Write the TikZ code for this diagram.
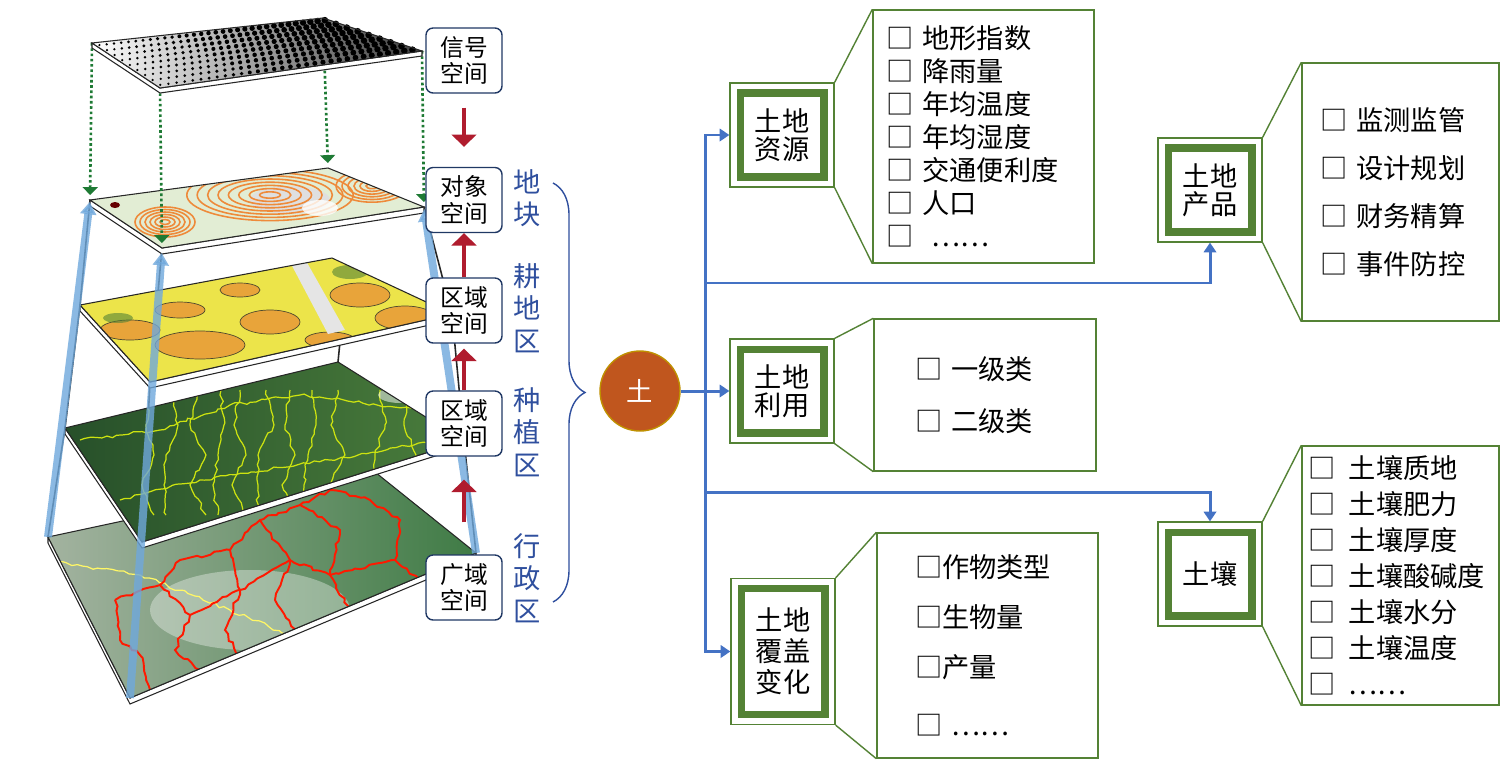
\documentclass[tikz,border=0pt]{standalone}
\usepackage{fontspec}
\setmainfont{Noto Sans CJK SC}
\usetikzlibrary{arrows.meta,calc,fit,decorations.pathreplacing,decorations.pathmorphing}
\definecolor{grn}{HTML}{548235}
\definecolor{bl}{HTML}{4472C4}
\definecolor{navy}{HTML}{203864}
\definecolor{lblue}{HTML}{2F4F9E}
\definecolor{rd}{HTML}{B01C2E}
\definecolor{dgr}{HTML}{1E7A34}
\definecolor{lgb}{HTML}{6FA8DC}
\definecolor{tuf}{HTML}{C0561E}
\definecolor{tub}{HTML}{BF9000}
\definecolor{adm1}{HTML}{A3B3A0}
\definecolor{adm2}{HTML}{3F7B45}
\definecolor{pla1}{HTML}{27502A}
\definecolor{pla2}{HTML}{4A7D3C}
\definecolor{cul}{HTML}{ECE44A}
\definecolor{obj}{HTML}{E2EDD4}
\definecolor{ora}{HTML}{EE8A3A}
\definecolor{blob}{HTML}{E8A43A}

\begin{document}
\begin{tikzpicture}[x=0.02cm,y=-0.02cm,
		grbox/.style={draw=grn,line width=4pt,fill=white,minimum width=1.68cm,minimum height=1.68cm,align=center,inner sep=0pt,font=\fontsize{15.5pt}{16pt}\selectfont},
		grout/.style={draw=grn,line width=0.7pt,inner sep=0.13cm},
		xibox/.style={draw=grn,line width=0.8pt,fill=white,align=left,inner ysep=0pt},
		spbox/.style={draw=navy,rounded corners=4pt,fill=white,line width=0.8pt,minimum width=1.52cm,minimum height=1.3cm,align=center,inner sep=0pt,font=\fontsize{13.5pt}{15pt}\selectfont},
		lbl/.style={text=lblue,align=center,font=\fontsize{15.5pt}{18.5pt}\selectfont},
		barr/.style={draw=bl,line width=1.7pt,-{Triangle[width=7pt,length=5.5pt]}},
		rarr/.style={draw=rd,line width=2.8pt,-{Triangle[width=14pt,length=7pt]}},
		garr/.style={draw=dgr,line width=1.5pt,dash pattern=on 1.5pt off 1.5pt,-{Triangle[width=8.5pt,length=4.5pt]}},
		leg/.style={draw=lgb,line width=4.5pt,opacity=0.8,-{Triangle[width=9pt,length=7pt]}},
		frame/.style={draw=gray!30!black,line width=0.9pt},
		rim/.style={fill=white,draw=gray!30!black,line width=0.6pt},
		rough/.style={decorate,decoration={random steps,segment length=3pt,amplitude=1pt}},
		redln/.style={draw=red!80!orange,line width=1.1pt,rough},
		ylln/.style={draw=yellow!80!green,line width=0.7pt,rough},
		orln/.style={draw=ora,line width=0.9pt}]
	\fill[white] (0,0) rectangle (1500,761);
	\useasboundingbox (0,0) rectangle (1500,761);
	\pgfmathsetseed{7}
	
	\coordinate (p1l) at (92,43);
	\coordinate (p1f) at (323,18);
	\coordinate (p1r) at (422,51);
	\coordinate (p1n) at (160,88);
	\coordinate (p2l) at (90,200);
	\coordinate (p2f) at (328,168);
	\coordinate (p2r) at (424,207);
	\coordinate (p2n) at (162,248);
	\coordinate (p3l) at (80,305);
	\coordinate (p3f) at (332,258);
	\coordinate (p3r) at (452,314);
	\coordinate (p3n) at (150,382);
	\coordinate (p4l) at (65,428);
	\coordinate (p4f) at (338,362);
	\coordinate (p4r) at (464,441);
	\coordinate (p4n) at (142,542);
	\coordinate (p5l) at (48,537);
	\coordinate (p5f) at (370,468);
	\coordinate (p5r) at (476,553);
	\coordinate (p5n) at (130,698);
	
	\draw[frame] (p2l) -- (p3l) -- (p4l) -- (p5l);
	\draw[frame] (p2r) -- (p3r) -- (p4r) -- (p5r);
	\draw[frame] (p2n) -- (p3n) -- (p4n) -- (p5n);
	\draw[frame] ($(p3n)!0.63!(p3r)$) -- (p4f);
	
	\path[rim] (p5l) -- (p5n) -- (p5r) -- ++(0,6) -- ($(p5n)+(0,6)$) -- ($(p5l)+(0,6)$) -- cycle;
	\shade[left color=adm1,right color=adm2] (p5l) -- (p5f) -- (p5r) -- (p5n) -- cycle;
	\begin{scope}
		\clip (p5l) -- (p5f) -- (p5r) -- (p5n) -- cycle;
		\fill[white,opacity=0.35] (250,610) ellipse (100 and 40);
		\draw[draw=yellow!60!white,line width=0.7pt,rough] (40,560) -- (140,575) -- (230,610) -- (300,640) -- (420,600);
		\draw[redln] (115,600) -- (160,585) -- (180,560) -- (230,550) -- (260,520) -- (300,505) -- (330,490) -- (350,470);
		\draw[redln] (115,600) -- (120,640) -- (140,655) -- (150,690);
		\draw[redln] (160,585) -- (190,615) -- (175,650) -- (200,670);
		\draw[redln] (230,550) -- (240,590) -- (225,630) -- (240,660);
		\draw[redln] (260,520) -- (290,560) -- (275,600) -- (300,640);
		\draw[redln] (300,505) -- (340,530) -- (330,575) -- (350,610);
		\draw[redln] (330,490) -- (370,500) -- (400,520) -- (395,560) -- (420,580);
		\draw[redln] (190,615) -- (240,590) -- (290,560) -- (330,575) -- (395,560);
	\end{scope}
	\draw[frame,line width=0.6pt] (p5l) -- (p5f) -- (p5r) -- (p5n) -- cycle;
	
	\path[rim] (p4l) -- (p4n) -- (p4r) -- ++(0,6) -- ($(p4n)+(0,6)$) -- ($(p4l)+(0,6)$) -- cycle;
	\shade[left color=pla1,right color=pla2] (p4l) -- (p4f) -- (p4r) -- (p4n) -- cycle;
	\begin{scope}
		\clip (p4l) -- (p4f) -- (p4r) -- (p4n) -- cycle;
		\foreach \x/\d in {150/4,172/-6,198/8,221/-3,240/6,266/-8,290/5,312/-4,338/7,380/-5,410/6}
			\draw[ylln] (\x,390) -- (\x-\d,425) -- (\x+\d,455) -- (\x-8,485) -- (\x+\d,515);
		\draw[ylln] (80,440) -- (160,430) -- (230,405) -- (300,395) -- (420,410);
		\draw[ylln] (120,500) -- (200,480) -- (330,460) -- (440,440);
		\fill[white,opacity=0.5] (400,395) ellipse (22 and 8);
	\end{scope}
	\draw[frame,line width=0.6pt] (p4l) -- (p4f) -- (p4r) -- (p4n) -- cycle;
	
	\path[rim] (p3l) -- (p3n) -- (p3r) -- ++(0,6) -- ($(p3n)+(0,6)$) -- ($(p3l)+(0,6)$) -- cycle;
	\fill[cul] (p3l) -- (p3f) -- (p3r) -- (p3n) -- cycle;
	\begin{scope}
		\clip (p3l) -- (p3f) -- (p3r) -- (p3n) -- cycle;
		\foreach \cx/\cy/\ra/\rb in {130/330/30/10,200/345/45/14,180/310/25/8,270/322/30/12,360/295/30/12,405/318/30/12,330/340/25/8,240/290/20/7}
			\filldraw[fill=blob,draw=black!60!olive,line width=0.4pt] (\cx,\cy) ellipse [x radius=\ra,y radius=\rb];
		\fill[gray!20] (290,262) -- (305,259) -- (345,330) -- (328,334) -- cycle;
		\fill[grn,opacity=0.6] (350,272) ellipse (18 and 7);
		\fill[grn,opacity=0.6] (118,318) ellipse (15 and 5);
	\end{scope}
	\draw[frame,line width=0.6pt] (p3l) -- (p3f) -- (p3r) -- (p3n) -- cycle;
	
	\path[rim] (p2l) -- (p2n) -- (p2r) -- ++(0,6) -- ($(p2n)+(0,6)$) -- ($(p2l)+(0,6)$) -- cycle;
	\fill[obj] (p2l) -- (p2f) -- (p2r) -- (p2n) -- cycle;
	\begin{scope}
		\clip (p2l) -- (p2f) -- (p2r) -- (p2n) -- cycle;
		\fill[gray!25] (290,200) ellipse (40 and 14);
		\foreach \rr in {8,16,...,64}
			\draw[orln] (270,195) ellipse [x radius={\rr*1.3},y radius={\rr*0.4}];
		\foreach \rr in {6,12,...,36}
			\draw[orln] (372,186) ellipse [x radius=\rr,y radius={\rr*0.45}];
		\foreach \rr in {5,10,...,30}
			\draw[orln] (165,222) ellipse [x radius=\rr,y radius={\rr*0.5}];
		\fill[white,opacity=0.8] (320,208) ellipse (18 and 8);
		\fill[black!60!red] (115,205) ellipse (5 and 3);
	\end{scope}
	\draw[frame,line width=0.6pt] (p2l) -- (p2f) -- (p2r) -- (p2n) -- cycle;
	
	\path[garr,shorten >=0.1cm] (p1l) -- (p2l);
	\path[garr,shorten >=0.1cm] (p1n) -- (p2n);
	\path[garr,shorten >=0.1cm] (p1f) -- (p2f);
	\path[garr,shorten >=0.1cm] (p1r) -- (p2r);
	
	\path[rim] (p1l) -- (p1n) -- (p1r) -- ++(0,5) -- ($(p1n)+(0,5)$) -- ($(p1l)+(0,5)$) -- cycle;
	\shade[left color=white,right color=gray!50!black] (p1l) -- (p1f) -- (p1r) -- (p1n) -- cycle;
	\foreach \i in {0,...,31} {
		\pgfmathsetmacro\u{(\i+0.5)/32}
		\foreach \j in {0,...,8} {
			\pgfmathsetmacro\v{(\j+0.5)/9}
			\coordinate (ta) at ($(p1l)!\u!(p1f)$);
			\coordinate (tb) at ($(p1n)!\u!(p1r)$);
			\fill ($(ta)!\v!(tb)$) circle [radius={1.2+2.2*\u}];
		}
	}
	\draw[frame,line width=0.6pt] (p1l) -- (p1f) -- (p1r) -- (p1n) -- cycle;
	
	\path[leg,shorten >=0.04cm] (p5l) -- (p2l);
	\path[leg,shorten >=0.1cm] (p5n) -- (p2n);
	\path[leg,shorten >=0.04cm] (p5r) -- (p2r);
	
	\node[spbox] (xinhao) at (464,60.5) {信号\\空间};
	\node[spbox] (duixiang) at (464,200) {对象\\空间};
	\node[spbox] (quyu1) at (464,310.5) {区域\\空间};
	\node[spbox] (quyu2) at (464,423.5) {区域\\空间};
	\node[spbox] (guangyu) at (464,587.5) {广域\\空间};
	
	\path[rarr,shorten <=0.28cm,shorten >=0.4cm] (xinhao) -- (duixiang);
	\path[rarr] (quyu1) -- (duixiang);
	\path[rarr,shorten >=0.1cm] (quyu2) -- (quyu1);
	\path[rarr,shorten <=0.64cm,shorten >=0.46cm] (guangyu) -- (quyu2);
	
	\node[lbl] (dikuai) at (527,198) {地\\块};
	\node[lbl] (gengdi) at (527,308) {耕\\地\\区};
	\node[lbl] (zhongzhi) at (527,432) {种\\植\\区};
	\node[lbl] (xingzheng) at (527,578) {行\\政\\区};
	\draw[lblue,line width=0.8pt,decorate,decoration={brace,amplitude=0.64cm}] (553,183) -- (553,602);
	
	\node[circle,fill=tuf,draw=tub,line width=0.8pt,minimum size=1.6cm,text=white,font=\fontsize{15pt}{15pt}\selectfont] (tu) at (640,391) {土};
	
	\node[grbox] (ziyuan) at (782,135) {土地\\资源};
	\node[grbox] (chanpin) at (1210,190) {土地\\产品};
	\node[grbox] (liyong) at (782,391) {土地\\利用};
	\node[grbox,minimum height=2.52cm,font=\fontsize{15.5pt}{17.6pt}\selectfont] (fugai) at (783,651.5) {土地\\覆盖\\变化};
	\node[grbox] (turang) at (1210,574) {土壤};
	\foreach \n in {ziyuan,chanpin,liyong,fugai,turang}
		\node[grout,fit=(\n)] (\n-o) {};
	
	\node[xibox,minimum width=4.42cm,minimum height=5.06cm,text width=3.9cm,inner xsep=0.26cm,font=\fontsize{15.5pt}{18.8pt}\selectfont] (xi-ziyuan) at (983.5,136.5) {□~地形指数\\□~降雨量\\□~年均温度\\□~年均湿度\\□~交通便利度\\□~人口\\□~~……};
	\node[xibox,minimum width=3.94cm,minimum height=5.16cm,text width=3.22cm,inner xsep=0.36cm,font=\fontsize{15.5pt}{27.3pt}\selectfont] (xi-chanpin) at (1400.5,192) {□~监测监管\\□~设计规划\\□~财务精算\\□~事件防控};
	\node[xibox,minimum width=4.44cm,minimum height=3.04cm,text width=2.8cm,inner xsep=0.82cm,font=\fontsize{15.5pt}{29.6pt}\selectfont] (xi-liyong) at (985,395) {□~一级类\\□~二级类};
	\node[xibox,minimum width=4.42cm,minimum height=4.5cm,text width=2.9cm,inner xsep=0.76cm,font=\fontsize{15.5pt}{28.4pt}\selectfont] (xi-fugai) at (987.5,645.5) {□作物类型\\□生物量\\□产量\\[5pt]□~……};
	\node[xibox,minimum width=3.94cm,minimum height=5.18cm,text width=3.7cm,inner xsep=0.12cm,font=\fontsize{15.5pt}{20.5pt}\selectfont] (xi-turang) at (1400.5,575.5) {□\enskip 土壤质地\\□\enskip 土壤肥力\\□\enskip 土壤厚度\\□\enskip 土壤酸碱度\\□\enskip 土壤水分\\□\enskip 土壤温度\\□\enskip ……};
	\foreach \n in {ziyuan,chanpin,liyong,fugai,turang} {
		\draw[grn,line width=0.8pt] (\n-o.north east) -- (xi-\n.north west);
		\draw[grn,line width=0.8pt] (\n-o.south east) -- (xi-\n.south west);
	}
	
	\coordinate (jd) at (705,391);
	\coordinate (ja) at (705,283);
	\coordinate (jb) at (705,492);
	\path[barr] (tu) -- (liyong-o.west);
	\path[barr] (jd) |- (ziyuan-o.west);
	\path[barr] (jd) |- (fugai-o.west);
	\path[barr] (ja) -| (chanpin-o.south);
	\path[barr] (jb) -| (turang-o.north);
\end{tikzpicture}
\end{document}
